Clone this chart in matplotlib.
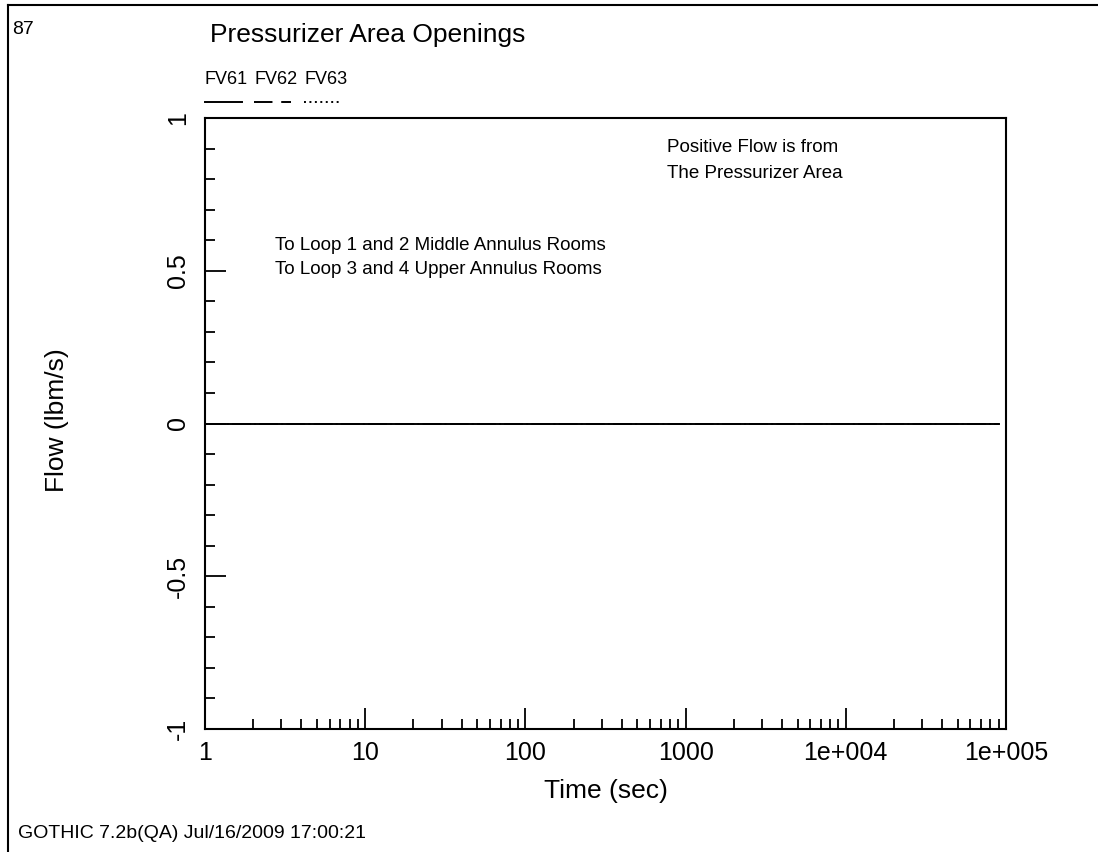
import numpy as np
import matplotlib.pyplot as plt
from matplotlib.lines import Line2D
from matplotlib.ticker import FixedLocator, LogLocator, NullFormatter

plt.rcParams["font.family"] = ["Liberation Sans", "DejaVu Sans"]

# data: flow through each opening (all flat at zero over the run)
time_sec = [1.0, 10.0, 100.0, 1000.0, 10000.0, 90000.0]
flow_fv61 = [0.0, 0.0, 0.0, 0.0, 0.0, 0.0]
flow_fv62 = [0.0, 0.0, 0.0, 0.0, 0.0, 0.0]
flow_fv63 = [0.0, 0.0, 0.0, 0.0, 0.0, 0.0]
series_names = ["FV61", "FV62", "FV63"]
x_tick_values = [1, 10, 100, 1000, 10000, 100000]
x_tick_labels = ["1", "10", "100", "1000", "1e+004", "1e+005"]
y_tick_values = [-1, -0.5, 0, 0.5, 1]
y_tick_labels = ["-1", "-0.5", "0", "0.5", "1"]

W, H = 1098, 852
fig = plt.figure(figsize=(W / 100, H / 100), dpi=100)
ax = fig.add_axes([205 / W, 1 - 729 / H, 801 / W, 611 / H])

# solid / long dash / dots, dash lengths are in linewidth units
styles = ["-", (0, (9.5, 4.5)), (0, (1, 1.8))]
for name, vals, ls in zip(series_names, [flow_fv61, flow_fv62, flow_fv63], styles):
    ax.plot(time_sec, vals, color="black", lw=1.4, ls=ls, label=name)

ax.set_xscale("log")
ax.set_xlim(1, 1e5)
ax.set_ylim(-1, 1)
ax.set_xticks(x_tick_values)
ax.set_xticklabels(x_tick_labels)
ax.xaxis.set_minor_locator(LogLocator(base=10, subs=np.arange(2, 10)))
ax.xaxis.set_minor_formatter(NullFormatter())
ax.set_yticks(y_tick_values)
ax.set_yticklabels(y_tick_labels)
ax.yaxis.set_minor_locator(FixedLocator(np.round(np.arange(-1, 1.01, 0.1), 2)))

ax.tick_params(which="major", direction="in", length=15, width=1.3, labelsize=18, pad=9)
ax.tick_params(which="minor", direction="in", length=7.5, width=1.3)
ax.tick_params(axis="y", pad=11)
plt.setp(ax.get_yticklabels(), rotation=90, va="center")
for s in ax.spines.values():
    s.set_linewidth(1.5)

ax.set_xlabel("Time (sec)", fontsize=19, labelpad=10)
fig.text(57 / W, 1 - 420 / H, "Flow (lbm/s)", fontsize=19, rotation=90, ha="center", va="center")

ax.text(667 / W, 1 - 148 / H, "Positive Flow is from", transform=fig.transFigure, fontsize=13.5, va="center")
ax.text(667 / W, 1 - 173 / H, "The Pressurizer Area", transform=fig.transFigure, fontsize=13.5, va="center")
ax.text(275 / W, 1 - 245 / H, "To Loop 1 and 2 Middle Annulus Rooms", transform=fig.transFigure,
        fontsize=13.5, va="center")
ax.text(275 / W, 1 - 270 / H, "To Loop 3 and 4 Upper Annulus Rooms", transform=fig.transFigure,
        fontsize=13.5, va="center")

# legend above the plot, label over a short line sample
fig.text(210 / W, 1 - 35 / H, "Pressurizer Area Openings", fontsize=19, va="center")
leg_x = [205, 254, 304]
for i, name in enumerate(series_names):
    x0 = leg_x[i] / W
    fig.text(x0, 1 - 80 / H, name, fontsize=13, va="center")
    fig.add_artist(Line2D([x0, x0 + 37 / W], [1 - 102 / H] * 2, color="black",
                          lw=1.4, ls=styles[i], transform=fig.transFigure))

fig.text(12 / W, 1 - 30 / H, "87", fontsize=14, va="center")
fig.text(18 / W, 1 - 833 / H, "GOTHIC 7.2b(QA) Jul/16/2009 17:00:21", fontsize=14, va="center")

# page frame, only top and left edges are in view
fig.add_artist(Line2D([8 / W, 8 / W], [0, 1 - 5 / H], color="black", lw=1.5, transform=fig.transFigure))
fig.add_artist(Line2D([8 / W, 1], [1 - 5 / H] * 2, color="black", lw=1.5, transform=fig.transFigure))

fig.savefig("out.png", dpi=100)
